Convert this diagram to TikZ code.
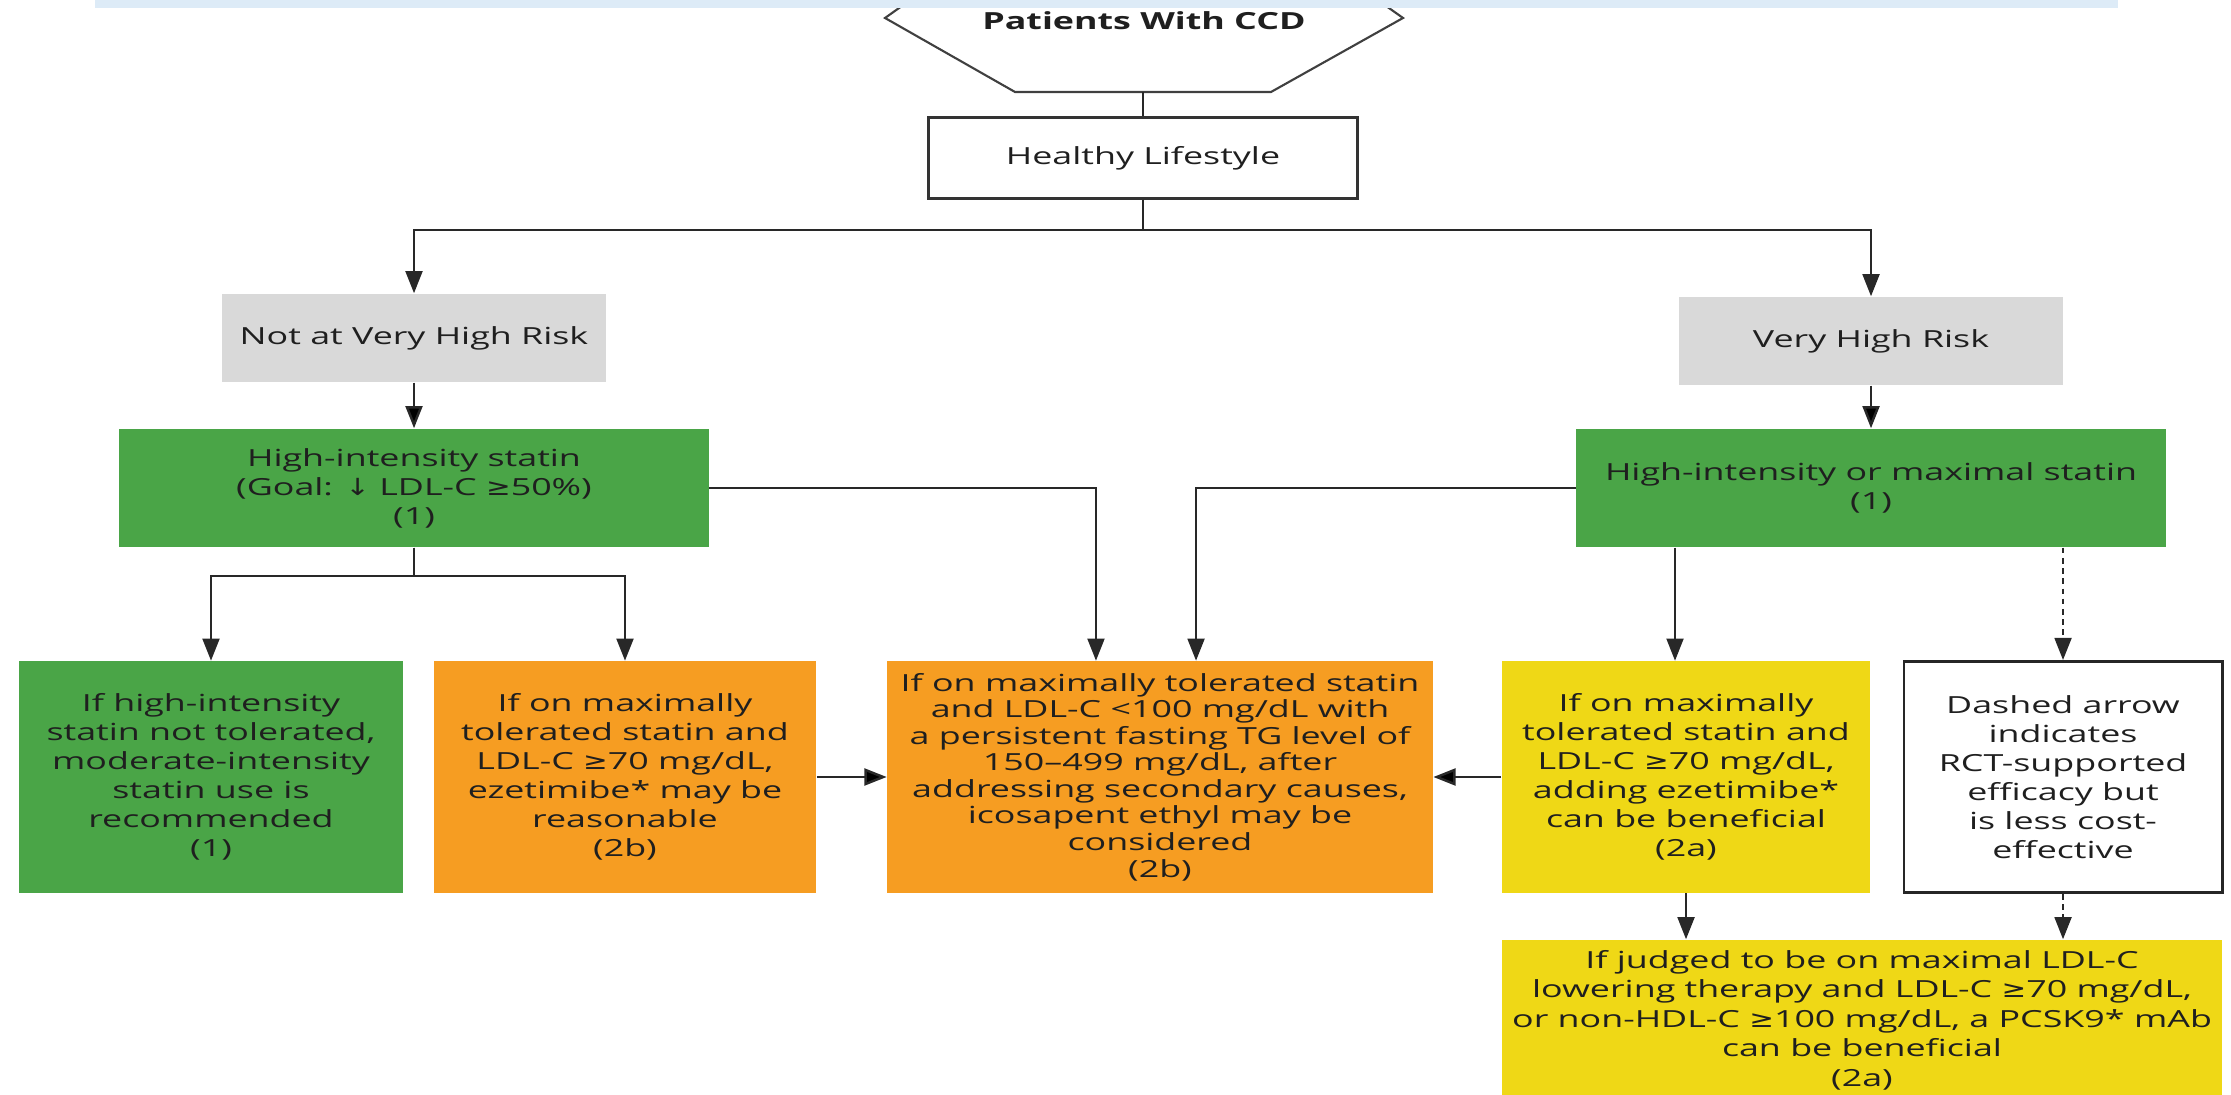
\documentclass[tikz,border=0pt]{standalone}
\usepackage{fontspec}
\setmainfont{Open Sans}[FakeStretch=1.52]
\newfontfamily\symfont{DejaVu Sans}[FakeStretch=1.25]
\usetikzlibrary{arrows.meta}

\definecolor{bandblue}{RGB}{221,235,247}
\definecolor{riskgray}{RGB}{217,217,217}
\definecolor{statingreen}{RGB}{74,165,71}
\definecolor{classorange}{RGB}{246,157,34}
\definecolor{classyellow}{RGB}{239,216,22}
\definecolor{linegray}{RGB}{40,40,40}
\newcommand{\gesign}{{\symfont ≥}}
\newcommand{\downsign}{{\symfont ↓}}

\begin{document}
\begin{tikzpicture}[x=0.01cm,y=-0.01cm,>={Triangle[length=6.3pt,width=4.8pt]},
                    every node/.style={font=\fontsize{6.7}{8.25}\selectfont,text=black!88,
                                       align=center,inner sep=0pt},
                    riskbox/.style={rectangle,fill=riskgray,minimum width=3.84cm,minimum height=0.88cm},
                    greenbox/.style={rectangle,fill=statingreen,minimum width=5.89cm,minimum height=1.18cm},
                    classbox/.style={rectangle,minimum height=2.31cm},
                    link/.style={draw=linegray,line width=0.7pt},
                    dashlink/.style={link,dash pattern=on 1.6pt off 1.3pt}]
	\useasboundingbox (0,0) rectangle (2231,1095);
	% start shape, partly under the top band
	\draw[draw=black!75,line width=0.6pt] (916,-4) -- (885,18) -- (1015,92) -- (1271,92) -- (1403,18) -- (1372,-4);
	\fill[bandblue] (95,0) rectangle (2118,8);
	\node[font=\fontsize{6.7}{8}\selectfont\bfseries]	(ccd)	at (1144,21)	{Patients With CCD};
	\coordinate	(ccdbase)	at (1143,92);

	\node[draw=black!80,line width=0.7pt,minimum width=4.29cm,minimum height=0.81cm]
						(life)	at (1143,158)	{Healthy Lifestyle};
	\node[riskbox]		(notvh)	at (414,338)	{Not at Very High Risk};
	\node[riskbox]		(vhr)	at (1871,341)	{Very High Risk};
	\node[greenbox]		(hisl)	at (414,488)	{High-intensity statin\\(Goal: \downsign\ LDL-C \gesign50\%)\\(1)};
	\node[greenbox]		(hisr)	at (1871,488)	{High-intensity or maximal statin\\(1)};

	\node[classbox,fill=statingreen,minimum width=3.84cm]	(mod)	at (211,777)
		{If high-intensity\\statin not tolerated,\\moderate-intensity\\statin use is\\recommended\\(1)};
	\node[classbox,fill=classorange,minimum width=3.82cm]	(eze2b)	at (625,777)
		{If on maximally\\tolerated statin and\\LDL-C \gesign70 mg/dL,\\ezetimibe* may be\\reasonable\\(2b)};
	\node[classbox,fill=classorange,minimum width=5.45cm,font=\fontsize{6.7}{7.55}\selectfont]	(ico)	at (1160,777)
		{If on maximally tolerated statin\\and LDL-C <100 mg/dL with\\a persistent fasting TG level of\\150–499 mg/dL, after\\addressing secondary causes,\\icosapent ethyl may be\\considered\\(2b)};
	\node[classbox,fill=classyellow,minimum width=3.68cm]	(eze2a)	at (1686,777)
		{If on maximally\\tolerated statin and\\LDL-C \gesign70 mg/dL,\\adding ezetimibe*\\can be beneficial\\(2a)};
	\node[classbox,draw=black!85,line width=0.8pt,minimum width=3.18cm]	(note)	at (2063,777)
		{Dashed arrow\\indicates\\RCT-supported\\efficacy but\\is less cost-\\effective};
	\node[rectangle,fill=classyellow,minimum width=7.2cm,minimum height=1.6cm,font=\fontsize{6.7}{8.4}\selectfont]	(pcsk)	at (1862,1020)
		{If judged to be on maximal LDL-C\\lowering therapy and LDL-C \gesign70 mg/dL,\\or non-HDL-C \gesign100 mg/dL, a PCSK9* mAb\\can be beneficial\\(2a)};
	\coordinate	(eztop)	at ([xshift=-0.11cm]eze2a.north);

	\draw[link]		(ccdbase) -- (life);
	\draw[link,->]	(life.south) -- ++(0,30) -| (notvh.north);
	\draw[link,->]	(life.south) -- ++(0,30) -| (vhr.north);
	\draw[link,->]	(hisl.south) -- ++(0,28) -| (mod.north);
	\draw[link,->]	(hisl.south) -- ++(0,28) -| (eze2b.north);
	\draw[link,->]	(hisl.east) -| ([xshift=-0.64cm]ico.north);
	\draw[link,->]	(hisr.west) -| ([xshift=0.36cm]ico.north);
	\path[link,->]	(notvh)	edge	(hisl)
					(vhr)	edge	(hisr)
					(eze2b)	edge	(ico)
					(eze2a)	edge	(ico);
	\draw[link,->]		(hisr.south -| eztop) -- (eztop);
	\draw[link,->]		(eze2a.south) -- (eze2a.south |- pcsk.north);
	\draw[dashlink,->]	(hisr.south -| note.north) -- (note.north);
	\draw[dashlink,->]	(note.south) -- (note.south |- pcsk.north);

\end{tikzpicture}
\end{document}
